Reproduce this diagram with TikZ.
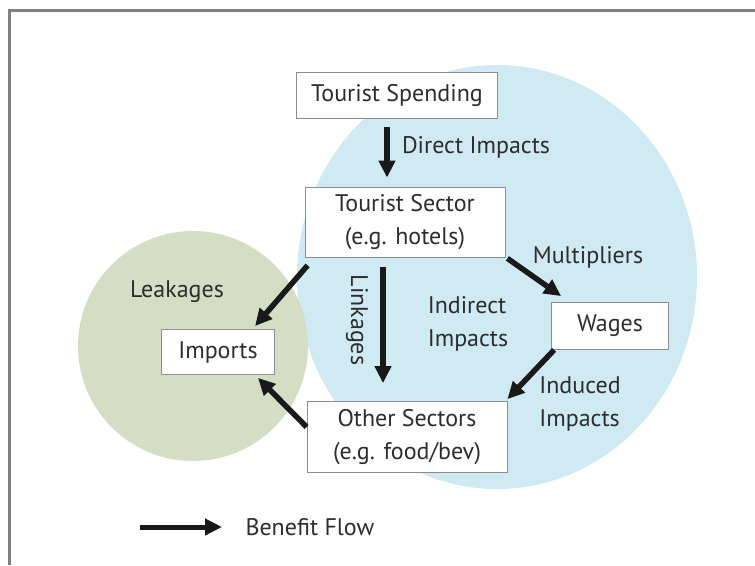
\documentclass[tikz,border=0pt]{standalone}
\usepackage{fontspec}
\setmainfont{PT Sans}
\usetikzlibrary{arrows.meta,positioning}
\definecolor{sectorblue}{RGB}{207,234,243}
\definecolor{leakgreen}{RGB}{213,222,197}
\definecolor{textgray}{RGB}{45,45,45}
\begin{document}
\begin{tikzpicture}[x=1pt,y=-1pt,font=\fontsize{24}{33}\selectfont,text=textgray]
    % Define styles
    \tikzstyle{sector}=[draw=black!45,fill=white,line width=0.8pt,align=center,inner sep=0pt]
    \tikzstyle{flow}=[line width=5.5pt,-{Triangle[length=17pt,width=16pt]},black!90]
    \tikzstyle{note}=[align=left,inner sep=0pt]

    \useasboundingbox (0,0) rectangle (755,565);

    % Draw the frame
    \draw[black!50,line width=3pt] (9,565) -- (9,10) -- (755,10);

    % Draw the circles
    \fill[sectorblue] (497,277) ellipse [x radius=200, y radius=212];
    \fill[leakgreen] (193,346) circle [radius=115];

    % Draw the nodes
    \node[sector,minimum width=201pt,minimum height=46pt] (spend) at (397,95) {Tourist Spending};
    \node[sector,minimum width=200pt,minimum height=70pt] (tsector) at (405,222) {Tourist Sector\\(e.g. hotels)};
    \node[sector,minimum width=117pt,minimum height=47pt] (wages) at (610,326) {Wages};
    \node[sector,minimum width=113pt,minimum height=45pt] (imports) at (218,352) {Imports};
    \node[sector,minimum width=200pt,minimum height=71pt] (others) at (407,437) {Other Sectors\\(e.g. food/bev)};

    % Draw the labels
    \node at (476,147) {Direct Impacts};
    \node[note] at (468,324) {Indirect\\Impacts};
    \node at (588,257) {Multipliers};
    \node[note] at (580,404) {Induced\\Impacts};
    \node at (177,292) {Leakages};
    \node[rotate=-90] at (357,320) {Linkages};
    \node[anchor=west] (benefit) at (242,527) {Benefit Flow};
    \coordinate (legend) at (140,527);

    % Draw the edges
    \draw[flow,shorten <=9pt,shorten >=9pt] ([xshift=-10pt]spend.south) -- ([xshift=-18pt]tsector.north);
    \draw[flow,shorten <=10pt,shorten >=18pt] ([xshift=-22pt]tsector.south) -- ([xshift=-24pt]others.north);
    \draw[flow] ([shift={(3pt,-8pt)}]tsector.south west) -- ([xshift=37pt,yshift=3pt]imports.north);
    \draw[flow] ([yshift=10pt]others.west) -- ([xshift=40pt,yshift=-3pt]imports.south);
    \draw[flow] ([shift={(2pt,-1pt)}]tsector.south east) -- ([shift={(10pt,6pt)}]wages.north west);
    \draw[flow] ([xshift=3pt]wages.south west) -- ([yshift=2pt]others.north east);

    % Draw the legend
    \draw[flow,line width=5pt] (legend) -- ([xshift=-20pt]benefit.west);
\end{tikzpicture}
\end{document}
